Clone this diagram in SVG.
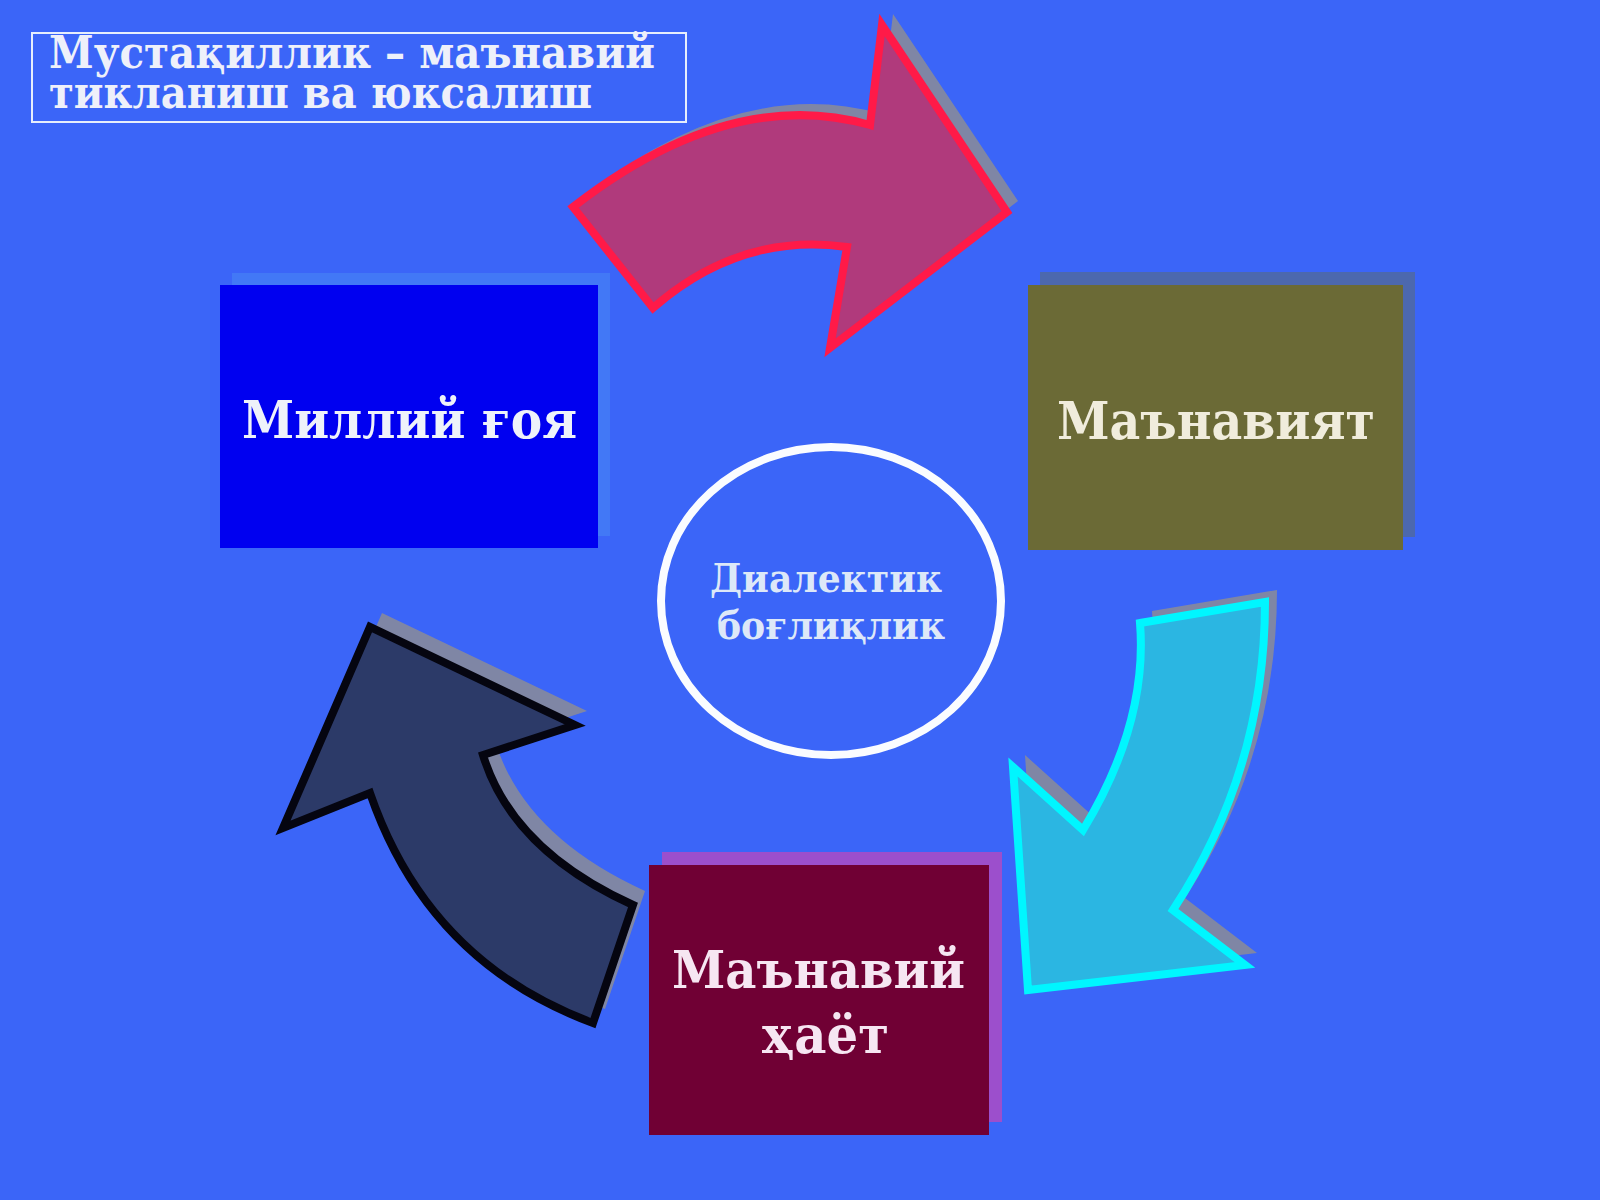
<svg xmlns="http://www.w3.org/2000/svg" width="1600" height="1200" viewBox="0 0 1600 1200">
<defs>
<style>
.t{font-family:"DejaVu Serif","Liberation Serif",serif;font-weight:bold;}
.sh{fill:#8c8c96;opacity:0.85;}
</style>
<path id="redA" d="M 573 207 Q 730 85 870 125 L 882 25 L 1007 212 L 830 348 L 847 247 Q 740 232 653 308 Z"/>
<path id="cyanA" d="M 1140 623 L 1265 602 Q 1265 770 1173 910 L 1245 965 L 1028 990 L 1013 767 L 1083 830 Q 1148 723 1140 623 Z"/>
<path id="darkA" d="M 593 1023 L 633 905 Q 512 850 483 755 L 575 725 L 370 627 L 283 828 L 370 793 Q 428 962 593 1023 Z"/>
</defs>
<rect x="0" y="0" width="1600" height="1200" fill="#3b65f8"/>

<g id="title">
<rect x="32" y="33" width="654" height="89" fill="none" stroke="#e6eefc" stroke-width="2"/>
<text class="t" x="49" y="68" font-size="44" fill="#eef0fa" textLength="606" lengthAdjust="spacingAndGlyphs">Мустақиллик – маънавий</text>
<text class="t" x="49" y="108" font-size="44" fill="#eef0fa" textLength="543" lengthAdjust="spacingAndGlyphs">тикланиш ва юксалиш</text>
</g>

<g id="connectors">
<g id="arrow-top">
<use href="#redA" class="sh" transform="translate(11,-11)"/>
<use href="#redA" fill="#b03a7c" stroke="#ff1a48" stroke-width="8" stroke-linejoin="miter"/>
</g>
<g id="arrow-right">
<use href="#cyanA" class="sh" transform="translate(12,-12)"/>
<use href="#cyanA" fill="#2bb6e2" stroke="#00f6ff" stroke-width="8" stroke-linejoin="miter"/>
</g>
<g id="arrow-left">
<use href="#darkA" class="sh" transform="translate(12,-14)"/>
<use href="#darkA" fill="#2c3a68" stroke="#050510" stroke-width="8" stroke-linejoin="miter"/>
</g>
</g>

<g id="node-milliy-goya">
<rect x="232" y="273" width="378" height="263" fill="#4278f6"/>
<rect x="220" y="285" width="378" height="263" fill="#0000f0"/>
<text class="t" x="242" y="438" font-size="52" fill="#eef2fa" textLength="335" lengthAdjust="spacingAndGlyphs">Миллий ғоя</text>
</g>

<g id="node-manaviyat">
<rect x="1040" y="272" width="375" height="265" fill="#4c68ae"/>
<rect x="1028" y="285" width="375" height="265" fill="#6b6a36"/>
<text class="t" x="1057" y="439" font-size="52" fill="#f0ecdc" textLength="318" lengthAdjust="spacingAndGlyphs">Маънавият</text>
</g>

<g id="node-manaviy-hayot">
<rect x="662" y="852" width="340" height="270" fill="#9c4fcc"/>
<rect x="649" y="865" width="340" height="270" fill="#700034"/>
<text class="t" x="672" y="988" font-size="52" fill="#f6e6f2" textLength="293" lengthAdjust="spacingAndGlyphs">Маънавий</text>
<text class="t" x="762" y="1053" font-size="52" fill="#f6e6f2" textLength="127" lengthAdjust="spacingAndGlyphs">ҳаёт</text>
</g>

<g id="node-center">
<ellipse cx="831" cy="601" rx="170" ry="154" fill="none" stroke="#fafcff" stroke-width="8"/>
<text class="t" x="710" y="592" font-size="40" fill="#dde8f8" textLength="232" lengthAdjust="spacingAndGlyphs">Диалектик</text>
<text class="t" x="717" y="639" font-size="40" fill="#dde8f8" textLength="228" lengthAdjust="spacingAndGlyphs">боғлиқлик</text>
</g>
</svg>
